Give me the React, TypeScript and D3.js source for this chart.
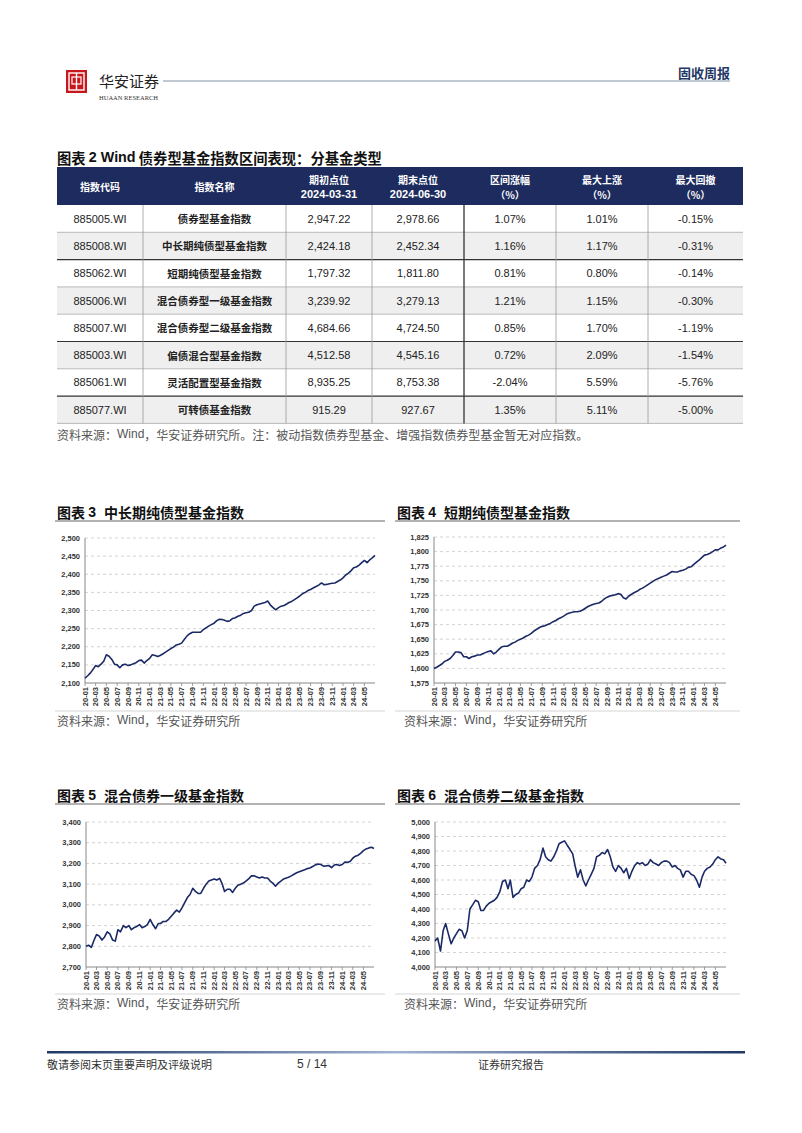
import React from 'react';
import * as d3 from 'd3';

// ---- table data ----
const indexCodes = ['885005.WI', '885008.WI', '885062.WI', '885006.WI', '885007.WI', '885003.WI', '885061.WI', '885077.WI'];
const indexNames = ['债券型基金指数', '中长期纯债型基金指数', '短期纯债型基金指数', '混合债券型一级基金指数', '混合债券型二级基金指数', '偏债混合型基金指数', '灵活配置型基金指数', '可转债基金指数'];
const startLevels = ['2,947.22', '2,424.18', '1,797.32', '3,239.92', '4,684.66', '4,512.58', '8,935.25', '915.29'];
const endLevels = ['2,978.66', '2,452.34', '1,811.80', '3,279.13', '4,724.50', '4,545.16', '8,753.38', '927.67'];
const rangeChange = ['1.07%', '1.16%', '0.81%', '1.21%', '0.85%', '0.72%', '-2.04%', '1.35%'];
const maxRise = ['1.01%', '1.17%', '0.80%', '1.15%', '1.70%', '2.09%', '5.59%', '5.11%'];
const maxDrawdown = ['-0.15%', '-0.31%', '-0.14%', '-0.30%', '-1.19%', '-1.54%', '-5.76%', '-5.00%'];
const headerLabels = [['指数代码'], ['指数名称'], ['期初点位', '2024-03-31'], ['期末点位', '2024-06-30'], ['区间涨幅', '（%）'], ['最大上涨', '（%）'], ['最大回撤', '（%）']];

// ---- chart data: values read on the 1st and 16th of each month, 2020-01 .. 2024-06, plus 2024-06-30 ----
const midLongBond = [
  2113, 2120, 2128, 2138, 2148, 2145, 2152, 2160, 2178, 2174, 2165, 2152,
  2150, 2142, 2150, 2152, 2148, 2150, 2153, 2156, 2162, 2163, 2155, 2162,
  2168, 2178, 2176, 2173, 2176, 2180, 2185, 2190, 2195, 2199, 2205, 2207,
  2210, 2220, 2230, 2236, 2240, 2240, 2240, 2240, 2247, 2252, 2257, 2261,
  2265, 2272, 2276, 2275, 2273, 2270, 2272, 2278, 2280, 2284, 2287, 2292,
  2294, 2295, 2300, 2312, 2316, 2318, 2320, 2322, 2326, 2315, 2308, 2302,
  2308, 2312, 2314, 2318, 2322, 2325, 2330, 2335, 2340, 2346, 2350, 2355,
  2358, 2362, 2366, 2370, 2376, 2371, 2372, 2374, 2375, 2376, 2380, 2384,
  2390, 2398, 2403, 2410, 2418, 2420, 2425, 2432, 2438, 2432, 2440, 2446,
  2452,
];
const shortBond = [
  1600, 1602, 1605, 1608, 1612, 1614, 1617, 1622, 1628, 1628, 1627, 1620,
  1620, 1617, 1620, 1621, 1623, 1623, 1625, 1627, 1629, 1630, 1625, 1628,
  1633, 1637, 1638, 1638, 1640, 1643, 1645, 1648, 1650, 1652, 1655, 1657,
  1660, 1664, 1667, 1670, 1672, 1673, 1675, 1677, 1680, 1682, 1685, 1687,
  1690, 1693, 1695, 1696, 1697, 1697, 1698, 1700, 1703, 1706, 1708, 1710,
  1711, 1712, 1715, 1719, 1722, 1724, 1725, 1726, 1728, 1727, 1721, 1719,
  1724, 1727, 1730, 1732, 1735, 1737, 1740, 1743, 1746, 1749, 1752, 1754,
  1756, 1758, 1760, 1763, 1766, 1765, 1765, 1767, 1768, 1770, 1773, 1774,
  1778, 1782, 1786, 1790, 1794, 1795, 1797, 1800, 1803, 1803, 1806, 1808,
  1811,
];
const mixedBond1 = [
  2800, 2805, 2795, 2830, 2857, 2850, 2830, 2845, 2870, 2860, 2830, 2825,
  2880, 2870, 2900, 2890, 2900, 2880, 2890, 2895, 2905, 2890, 2895, 2905,
  2930, 2905, 2885, 2910, 2910, 2920, 2920, 2930, 2945, 2960, 2975, 2965,
  2985, 3010, 3035, 3050, 3080, 3065, 3055, 3055, 3080, 3100, 3115, 3120,
  3125, 3120, 3128, 3100, 3065, 3075, 3075, 3060, 3080, 3095, 3100, 3105,
  3115, 3125, 3140, 3140, 3135, 3130, 3135, 3130, 3130, 3115, 3105, 3090,
  3105, 3115, 3125, 3130, 3133, 3140, 3148, 3155, 3160, 3165, 3170, 3175,
  3178, 3185, 3193, 3197, 3195, 3187, 3188, 3190, 3180, 3192, 3195, 3190,
  3195, 3207, 3205, 3210, 3225, 3235, 3240, 3250, 3262, 3270, 3275, 3278,
  3272,
];
const mixedBond2 = [
  4180, 4200, 4110, 4250, 4300, 4230, 4160, 4200, 4230, 4260, 4250, 4200,
  4250, 4400, 4430, 4460, 4450, 4390, 4390, 4420, 4440, 4450, 4460, 4480,
  4520, 4590, 4600, 4540, 4600, 4480, 4500, 4510, 4540, 4550, 4600, 4590,
  4620, 4680, 4700, 4740, 4820, 4760, 4740, 4730, 4760, 4800, 4850, 4860,
  4870, 4840, 4810, 4780, 4700, 4620, 4670, 4600, 4560, 4600, 4640, 4680,
  4760, 4770, 4790, 4780, 4810, 4760, 4690, 4660, 4700, 4680, 4650, 4680,
  4610, 4660, 4700, 4720, 4710, 4720, 4700, 4710, 4740, 4720, 4710, 4700,
  4720, 4730, 4730, 4720, 4690, 4700, 4680, 4670, 4620, 4660, 4660, 4640,
  4630, 4600, 4550, 4620, 4660, 4680, 4690, 4710, 4740, 4760, 4745, 4740,
  4715,
];

const ticks3 = [2100, 2150, 2200, 2250, 2300, 2350, 2400, 2450, 2500];
const ticks4 = [1575, 1600, 1625, 1650, 1675, 1700, 1725, 1750, 1775, 1800, 1825];
const ticks5 = [2700, 2800, 2900, 3000, 3100, 3200, 3300, 3400];
const ticks6 = [4000, 4100, 4200, 4300, 4400, 4500, 4600, 4700, 4800, 4900, 5000];

// observation dates (1st and 16th of each month)
const obsDates: Date[] = [];
for (let m = 0; m < 54; m++) {
  obsDates.push(new Date(2020, m, 1));
  obsDates.push(new Date(2020, m, 16));
}
obsDates.push(new Date(2024, 5, 30));

const CJK = '"Noto Sans CJK SC", sans-serif';
const LAT = '"Liberation Sans", Arial, sans-serif';
const NAVY = '#1d2b5e';
const LINE = '#1b2a66';

function LineChart({ panelL, panelR, titleY, plotL, plotR, plotT, plotB, sourceX, sourceY, num, title, values, yTicks }) {
  const x = d3.scaleTime().domain([new Date(2020, 0, 1), new Date(2024, 5, 30)]).range([plotL, plotR]);
  const y = d3.scaleLinear().domain([yTicks[0], yTicks[yTicks.length - 1]]).range([plotB, plotT]);
  const line = d3.line<number>().x((d, i) => x(obsDates[i])).y(d => y(d));
  const xTicks = d3.timeMonth.every(2).range(new Date(2020, 0, 1), new Date(2024, 5, 2));
  const fmt = d3.timeFormat('%y-%m');
  return (
    <g>
      <text x={panelL + 2} y={titleY} fontFamily={CJK} fontWeight={700} fontSize={14} fill="#111" dominantBaseline="central">
        图表 <tspan fontFamily={LAT}>{num}</tspan><tspan dx={8}>{title}</tspan>
      </text>
      <line x1={panelL} x2={panelR} y1={titleY + 9} y2={titleY + 9} stroke="#666" strokeWidth={1} />
      {yTicks.slice(1).map(t => (
        <line key={'g' + t} x1={plotL} x2={plotR} y1={y(t)} y2={y(t)} stroke="#c8c8c8" strokeWidth={0.8} strokeDasharray="3,3" />
      ))}
      {yTicks.map(t => (
        <text key={'t' + t} x={plotL - 5} y={y(t)} fontFamily={LAT} fontWeight={700} fontSize={7.5} fill="#333" textAnchor="end" dominantBaseline="central">{d3.format(',')(t)}</text>
      ))}
      <line x1={plotL} x2={plotL} y1={plotT} y2={plotB} stroke="#888" strokeWidth={1} />
      <line x1={plotL} x2={plotR} y1={plotB} y2={plotB} stroke="#888" strokeWidth={1} />
      {xTicks.map(d => (
        <g key={+d}>
          <line x1={x(d)} x2={x(d)} y1={plotB} y2={plotB + 3} stroke="#888" strokeWidth={0.8} />
          <text transform={`translate(${x(d)},${plotB + 4}) rotate(-90)`} fontFamily={LAT} fontWeight={700} fontSize={7.5} fill="#333" textAnchor="end" dominantBaseline="central">{fmt(d)}</text>
        </g>
      ))}
      <path d={line(values) || ''} fill="none" stroke={LINE} strokeWidth={1.6} strokeLinejoin="round" />
      <line x1={panelL} x2={panelR} y1={sourceY - 9} y2={sourceY - 9} stroke="#bbb" strokeWidth={0.6} />
      <text x={sourceX} y={sourceY} fontFamily={CJK} fontSize={12} fill="#555" dominantBaseline="central">资料来源：<tspan fontFamily={LAT}>Wind</tspan>，华安证券研究所</text>
    </g>
  );
}

function Table() {
  const cols = [57, 143, 286, 372, 464, 556, 648, 743];
  const headTop = 167;
  const headBot = 205;
  const rowH = 27.3;
  const row = d3.scaleLinear().domain([0, 1]).range([headBot, headBot + rowH]);
  const darkAfter = [1, 4, 6];
  const cells = indexCodes.map((c, i) => [c, indexNames[i], startLevels[i], endLevels[i], rangeChange[i], maxRise[i], maxDrawdown[i]]);
  const mid = (j: number) => (cols[j] + cols[j + 1]) / 2;
  return (
    <g>
      <text x={57} y={157} fontFamily={CJK} fontWeight={700} fontSize={14.3} fill="#111" dominantBaseline="central">图表 <tspan fontFamily={LAT}>2 Wind</tspan> 债券型基金指数区间表现：分基金类型</text>
      <rect x={cols[0]} y={headTop} width={cols[7] - cols[0]} height={headBot - headTop} fill={NAVY} />
      {headerLabels.map((lab, j) => lab.length === 1 ? (
        <text key={j} x={mid(j)} y={(headTop + headBot) / 2} fontFamily={CJK} fontWeight={700} fontSize={10} fill="#fff" textAnchor="middle" dominantBaseline="central">{lab[0]}</text>
      ) : (
        <g key={j}>
          <text x={mid(j)} y={179} fontFamily={CJK} fontWeight={700} fontSize={10} fill="#fff" textAnchor="middle" dominantBaseline="central">{lab[0]}</text>
          <text x={mid(j)} y={194} fontFamily={lab[1].startsWith('2') ? LAT : CJK} fontWeight={700} fontSize={lab[1].startsWith('2') ? 11 : 10} fill="#fff" textAnchor="middle" dominantBaseline="central">{lab[1]}</text>
        </g>
      ))}
      {cells.map((r, i) => (
        <g key={i}>
          <rect x={cols[0]} y={row(i)} width={cols[7] - cols[0]} height={rowH} fill={i % 2 === 1 ? '#efefef' : '#fff'} />
          {r.map((v, j) => (
            <text key={j} x={mid(j)} y={row(i) + rowH / 2} fontFamily={j === 1 ? CJK : LAT} fontWeight={j === 1 ? 700 : 400} fontSize={j === 1 ? 10.5 : 11} fill="#222" textAnchor="middle" dominantBaseline="central">{v}</text>
          ))}
        </g>
      ))}
      {cells.map((r, i) => (
        <line key={'h' + i} x1={cols[0]} x2={cols[7]} y1={row(i + 1)} y2={row(i + 1)} stroke={darkAfter.includes(i) ? '#333' : '#aaa'} strokeWidth={darkAfter.includes(i) ? 1.2 : 0.8} />
      ))}
      {cols.slice(1, 7).map((c, j) => (
        <line key={'v' + j} x1={c} x2={c} y1={headBot} y2={row(8)} stroke={j === 3 ? '#333' : '#999'} strokeWidth={j === 3 ? 1.3 : 0.8} />
      ))}
      <text x={57} y={434} fontFamily={CJK} fontSize={12} fill="#555" dominantBaseline="central">资料来源：<tspan fontFamily={LAT}>Wind</tspan>，华安证券研究所。注：被动指数债券型基金、增强指数债券型基金暂无对应指数。</text>
    </g>
  );
}

export default function App() {
  return (
    <svg width={802} height={1133} style={{ position: 'absolute', left: 0, top: 0, background: '#fff' }}>
      <rect width={802} height={1133} fill="#fff" />
      {/* header */}
      <rect x={66} y={70} width={21} height={23} fill="#c8161d" />
      <rect x={69} y={73} width={15} height={17} fill="none" stroke="#fff" strokeWidth={1.4} />
      <line x1={76.5} x2={76.5} y1={73} y2={90} stroke="#fff" strokeWidth={1.4} />
      <rect x={72} y={77} width={9} height={7} fill="none" stroke="#fff" strokeWidth={1.2} />
      <text x={99} y={80} fontFamily={CJK} fontSize={15} fill="#222" dominantBaseline="central">华安证券</text>
      <text x={99} y={97} fontFamily='"Liberation Serif", serif' fontSize={6.5} fill="#333" dominantBaseline="central">HUAAN RESEARCH</text>
      <line x1={163} x2={730} y1={81} y2={81} stroke="#8090a8" strokeWidth={1} />
      <text x={730} y={72} fontFamily={CJK} fontWeight={700} fontSize={13} fill="#1f3864" textAnchor="end" dominantBaseline="central">固收周报</text>

      <Table />

      <LineChart panelL={55} panelR={385} titleY={512} plotL={85} plotR={375} plotT={538} plotB={683} sourceX={57} sourceY={720} num="3" title="中长期纯债型基金指数" values={midLongBond} yTicks={ticks3} />
      <LineChart panelL={395} panelR={740} titleY={512} plotL={434} plotR={726} plotT={537} plotB={683} sourceX={404} sourceY={720} num="4" title="短期纯债型基金指数" values={shortBond} yTicks={ticks4} />
      <LineChart panelL={55} panelR={385} titleY={795} plotL={86} plotR={374} plotT={822} plotB={967} sourceX={57} sourceY={1003} num="5" title="混合债券一级基金指数" values={mixedBond1} yTicks={ticks5} />
      <LineChart panelL={395} panelR={740} titleY={795} plotL={435} plotR={726} plotT={822} plotB={967} sourceX={404} sourceY={1003} num="6" title="混合债券二级基金指数" values={mixedBond2} yTicks={ticks6} />

      {/* footer */}
      <defs>
        <linearGradient id="foot" x1="0" x2="1" y1="0" y2="0">
          <stop offset="0" stopColor="#1f3864" />
          <stop offset="0.5" stopColor="#9fb3d1" />
          <stop offset="1" stopColor="#1f3864" />
        </linearGradient>
      </defs>
      <rect x={47} y={1051} width={698} height={2.5} fill="url(#foot)" />
      <text x={47} y={1064} fontFamily={CJK} fontSize={11} fill="#333" dominantBaseline="central">敬请参阅末页重要声明及评级说明</text>
      <text x={297} y={1064} fontFamily={LAT} fontSize={12} fill="#333" dominantBaseline="central">5 / 14</text>
      <text x={478} y={1064} fontFamily={CJK} fontSize={11} fill="#333" dominantBaseline="central">证券研究报告</text>
    </svg>
  );
}
